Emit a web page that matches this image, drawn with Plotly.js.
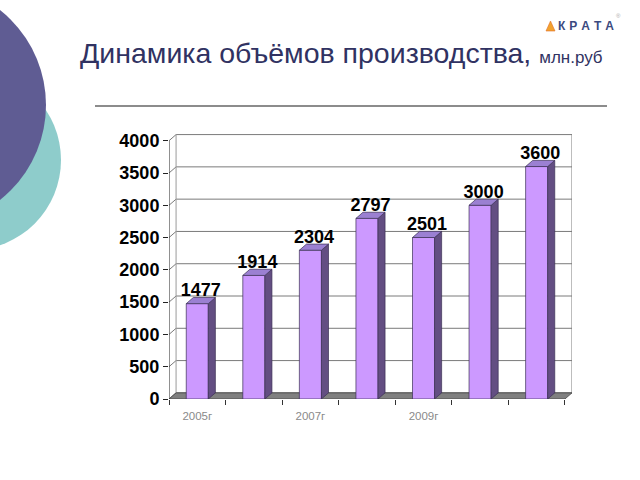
<!DOCTYPE html>
<html>
<head>
<meta charset="utf-8">
<script src="https://cdn.plot.ly/plotly-3.0.1.min.js"></script>
<style>html,body{margin:0;padding:0;background:#fff;}#chart{width:640px;height:480px;}</style>
</head>
<body>
<div id="chart"></div>
<script>
// ---- data ----
const years = ['2005г', '2006г', '2007г', '2008г', '2009г', '2010г', '2011г'];
const values = [1477, 1914, 2304, 2797, 2501, 3000, 3600];
const shownTickIdx = [0, 2, 4];
const yTicks = [0, 500, 1000, 1500, 2000, 2500, 3000, 3500, 4000];

// ---- 3D look parameters (data units) ----
const W = 0.39;      // bar width
const DX = 0.125;    // depth offset in x
const DY = 95;       // depth offset in y
const X0 = -0.5, X1 = years.length - 0.5;
const YMAX = yTicks[yTicks.length - 1];

const idx = years.map((_, i) => i);

// side faces & top faces
const sideX = [], sideY = [], topX = [], topY = [];
values.forEach((v, i) => {
  const xr = i + W / 2, xl = i - W / 2;
  sideX.push(xr, xr + DX, xr + DX, xr, xr, null);
  sideY.push(0, DY, v + DY, v, 0, null);
  topX.push(xl, xr, xr + DX, xl + DX, xl, null);
  topY.push(v, v, v + DY, v + DY, v, null);
});

const traces = [
  {
    type: 'bar', x: idx, y: values, width: W,
    marker: {color: '#CC99FF', line: {color: '#3b2f55', width: 0.7}},
    hovertext: years, hoverinfo: 'text+y'
  },
  {
    type: 'scatter', mode: 'lines', x: sideX, y: sideY, fill: 'toself',
    fillcolor: '#634E82', line: {color: '#3b2f55', width: 0.7}, hoverinfo: 'skip'
  },
  {
    type: 'scatter', mode: 'lines', x: topX, y: topY, fill: 'toself',
    fillcolor: '#9B80D2', line: {color: '#3b2f55', width: 0.7}, hoverinfo: 'skip'
  },
  {
    type: 'scatter', mode: 'text',
    x: idx.map(i => i + DX / 2), y: values.map(v => v + DY * 0.5),
    text: values.map(v => '<b>' + v + '</b>'), textposition: 'top center',
    textfont: {family: 'Liberation Sans, Arial, sans-serif', size: 18, color: '#000'},
    cliponaxis: false, hoverinfo: 'skip'
  }
];

// walls, gridlines, floor (computed from the axis ticks)
const shapes = [];
// decorative circles (paper coords)
const px = x => x / 640, py = y => (480 - y) / 480;
shapes.push({type: 'circle', xref: 'paper', yref: 'paper', layer: 'below',
  x0: px(-29 - 90), x1: px(-29 + 90), y0: py(160 + 90), y1: py(160 - 90),
  fillcolor: '#8ECCCB', line: {width: 0}});
shapes.push({type: 'circle', xref: 'paper', yref: 'paper', layer: 'below',
  x0: px(-75 - 121), x1: px(-75 + 121), y0: py(105 + 121), y1: py(105 - 121),
  fillcolor: '#5F5C93', line: {width: 0}});
// header rule
shapes.push({type: 'line', xref: 'paper', yref: 'paper', layer: 'below',
  x0: px(95), x1: px(607), y0: py(106), y1: py(106), line: {color: '#666', width: 1.5}});
// logo triangle
shapes.push({type: 'path', xref: 'paper', yref: 'paper', layer: 'above',
  path: `M ${px(546)},${py(31)} L ${px(550.5)},${py(21)} L ${px(555)},${py(31)} Z`,
  fillcolor: '#F2A22E', line: {color: '#E0702A', width: 0.6}});

yTicks.forEach(v => {
  shapes.push({type: 'path', xref: 'x', yref: 'y', layer: 'below',
    path: `M ${X0},${v} L ${X0 + DX},${v + DY} L ${X1 + DX},${v + DY}`,
    line: {color: '#7a7a7a', width: 1}});
});
shapes.push({type: 'path', xref: 'x', yref: 'y', layer: 'below',
  path: `M ${X1 + DX},${DY} L ${X1 + DX},${YMAX + DY}`, line: {color: '#7a7a7a', width: 1}});
shapes.push({type: 'path', xref: 'x', yref: 'y', layer: 'below',
  path: `M ${X0 + DX},${DY} L ${X0 + DX},${YMAX + DY}`, line: {color: '#9a9a9a', width: 1}});
// floor
shapes.push({type: 'path', xref: 'x', yref: 'y', layer: 'below',
  path: `M ${X0},0 L ${X1},0 L ${X1 + DX},${DY} L ${X0 + DX},${DY} Z`,
  fillcolor: '#808080', line: {color: '#444', width: 0.8}});
// value axis line
shapes.push({type: 'path', xref: 'x', yref: 'y', layer: 'below',
  path: `M ${X0},0 L ${X0},${YMAX}`, line: {color: '#222', width: 1}});

const boundaries = [];
for (let b = X0; b <= X1 + 1e-9; b += 1) boundaries.push(b);

const layout = {
  width: 640, height: 480,
  margin: {l: 0, r: 0, t: 0, b: 0},
  paper_bgcolor: '#ffffff', plot_bgcolor: 'rgba(0,0,0,0)',
  showlegend: false,
  font: {family: 'Liberation Sans, Arial, sans-serif'},
  xaxis: {
    domain: [169 / 640, 572 / 640],
    range: [X0, X1 + DX],
    tickmode: 'array', tickvals: shownTickIdx, ticktext: shownTickIdx.map(i => years[i]),
    ticks: 'outside', ticklen: 6, tickcolor: 'rgba(0,0,0,0)',
    minor: {tickmode: 'array', tickvals: boundaries, ticks: 'outside', ticklen: 5, tickcolor: '#333', showgrid: false},
    tickfont: {size: 11.5, color: '#8a8a8a'},
    showgrid: false, zeroline: false, showline: false, fixedrange: true
  },
  yaxis: {
    domain: [(480 - 399) / 480, (480 - 134) / 480],
    range: [0, 4104],
    tickmode: 'array', tickvals: yTicks, ticktext: yTicks.map(v => '<b>' + v + '</b>'),
    ticks: 'outside', ticklen: 5, tickcolor: '#222',
    tickfont: {size: 18, color: '#000'},
    showgrid: false, zeroline: false, showline: false, fixedrange: true
  },
  shapes: shapes,
  annotations: [
    {xref: 'paper', yref: 'paper', x: px(78), y: py(53), xanchor: 'left', yanchor: 'middle',
     showarrow: false,
     text: 'Динамика объёмов производства, <span style="font-size:17px">млн.руб</span>',
     font: {size: 28.5, color: '#303262'}},
    {xref: 'paper', yref: 'paper', x: px(556), y: py(26), xanchor: 'left', yanchor: 'middle',
     showarrow: false, text: '<b>К\u2004Р\u2004А\u2004Т\u2004А</b>',
     font: {size: 12, color: '#3B4A80'}},
    {xref: 'paper', yref: 'paper', x: px(614), y: py(16), xanchor: 'left', yanchor: 'middle',
     showarrow: false, text: '®', font: {size: 6, color: '#aaa'}}
  ]
};

Plotly.newPlot('chart', traces, layout, {displayModeBar: false, staticPlot: true});
</script>
</body>
</html>
